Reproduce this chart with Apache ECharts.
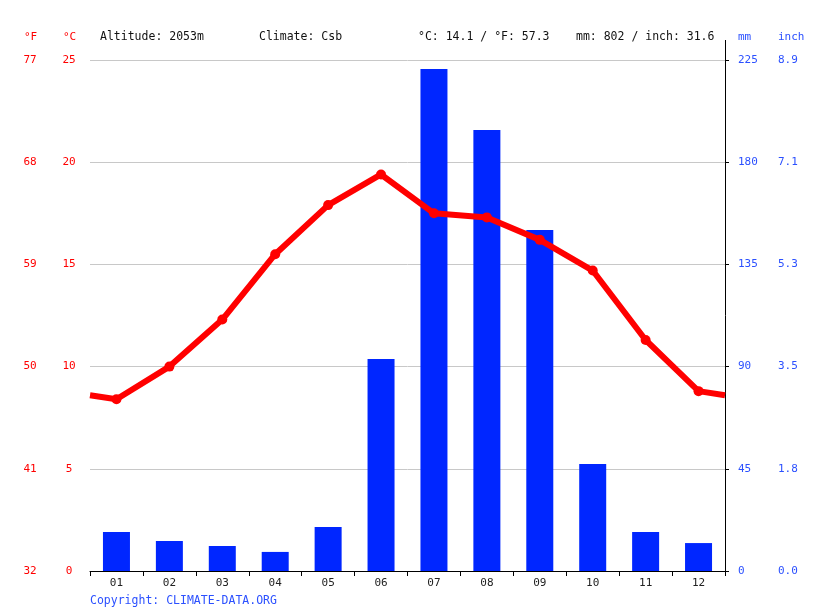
<!DOCTYPE html>
<html><head><meta charset="utf-8">
<script src="https://cdn.jsdelivr.net/npm/echarts@6/dist/echarts.min.js"></script>
<style>html,body{margin:0;padding:0;background:#fff}#c{width:815px;height:611px}</style>
</head><body><div id="c"></div>
<script>
const months = ['01','02','03','04','05','06','07','08','09','10','11','12'];
const precipMm = [17.2, 13.2, 11.0, 8.4, 19.4, 93.3, 221, 194.2, 150.1, 47.1, 17.2, 12.3];
const tempC = [8.4, 10.0, 12.3, 15.5, 17.9, 19.4, 17.5, 17.3, 16.2, 14.7, 11.3, 8.8];
const headerTexts = ['Altitude: 2053m', 'Climate: Csb', '°C: 14.1 / °F: 57.3', 'mm: 802 / inch: 31.6'];

const RED = '#ff0000', BLUE = '#0026ff', LBLUE = '#2b50ff';
const FONT = 'DejaVu Sans Mono';

// wrap-around line ends (Dec -> Jan), derived from data
const edge = (tempC[0] + tempC[11]) / 2;
const lineData = [{value:[0, edge], symbol:'none'}];
tempC.forEach((t,i)=>lineData.push([i+0.5, t]));
lineData.push({value:[12, edge], symbol:'none'});

const chart = echarts.init(document.getElementById('c'));
chart.setOption({
  animation:false,
  grid:{left:90, right:90, top:60, bottom:40},
  xAxis:[
    {type:'category', data:months, boundaryGap:true,
     axisLine:{lineStyle:{color:'#000', width:1}},
     axisTick:{show:true, length:5, lineStyle:{color:'#000'}, alignWithLabel:false},
     axisLabel:{color:'#222', fontFamily:FONT, fontSize:11, margin:7}},
    {type:'value', min:0, max:12, show:false}
  ],
  yAxis:[
    {type:'value', min:0, max:25, interval:5, position:'left',
     axisLine:{show:false}, axisTick:{show:false},
     splitLine:{show:true, lineStyle:{color:'#c8c8c8', width:1}},
     axisLabel:{color:RED, fontFamily:FONT, fontSize:11, align:'center', margin:21}},
    {type:'value', min:0, max:25, interval:5, position:'left',
     axisLine:{show:false}, axisTick:{show:false}, splitLine:{show:false},
     axisLabel:{color:RED, fontFamily:FONT, fontSize:11, align:'center', margin:60,
       formatter:v=>String(Math.round(v*9/5+32))}},
    {type:'value', min:0, max:225, interval:45, position:'right',
     axisLine:{show:true, lineStyle:{color:'#000'}}, axisTick:{show:true, length:4, lineStyle:{color:'#000'}},
     splitLine:{show:false},
     axisLabel:{color:LBLUE, fontFamily:FONT, fontSize:11, align:'left', margin:13}},
    {type:'value', min:0, max:225, interval:45, position:'right',
     axisLine:{show:false}, axisTick:{show:false}, splitLine:{show:false},
     axisLabel:{color:LBLUE, fontFamily:FONT, fontSize:11, align:'left', margin:53,
       formatter:v=>(v/25.4).toFixed(1)}}
  ],
  series:[
    {type:'bar', data:precipMm, xAxisIndex:0, yAxisIndex:2, barWidth:27,
     itemStyle:{color:BLUE}, z:2},
    {type:'line', data:lineData, xAxisIndex:1, yAxisIndex:0,
     symbol:'circle', symbolSize:10, lineStyle:{color:RED, width:6},
     itemStyle:{color:RED}, z:3}
  ],
  graphic:[
    {type:'text', left:24, top:32, style:{text:'°F', fill:RED, font:'11px '+FONT}},
    {type:'text', left:63, top:32, style:{text:'°C', fill:RED, font:'11px '+FONT}},
    {type:'text', left:738, top:32, style:{text:'mm', fill:LBLUE, font:'11px '+FONT}},
    {type:'text', left:778, top:32, style:{text:'inch', fill:LBLUE, font:'11px '+FONT}},
    {type:'text', left:100, top:31, style:{text:headerTexts[0], fill:'#111', font:'11.5px '+FONT}},
    {type:'text', left:259, top:31, style:{text:headerTexts[1], fill:'#111', font:'11.5px '+FONT}},
    {type:'text', left:418, top:31, style:{text:headerTexts[2], fill:'#111', font:'11.5px '+FONT}},
    {type:'text', left:576, top:31, style:{text:headerTexts[3], fill:'#111', font:'11.5px '+FONT}},
    {type:'text', left:90, top:595, style:{text:'Copyright: CLIMATE-DATA.ORG', fill:LBLUE, font:'11.5px '+FONT}},
    {type:'line', shape:{x1:725.5, y1:40, x2:725.5, y2:60}, style:{stroke:'#000', lineWidth:1}}
  ]
});
</script></body></html>
